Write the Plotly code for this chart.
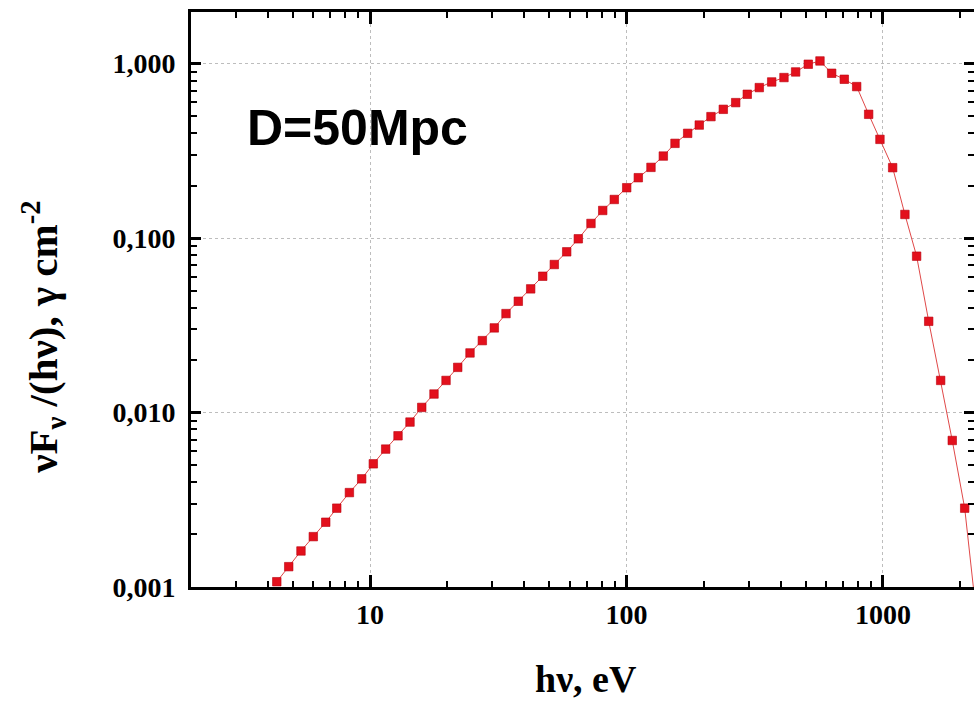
import plotly.graph_objects as go

# Photon energy (eV) of each spectral point
energy_ev = [
    4.33, 4.82, 5.38, 6.01, 6.72, 7.42, 8.31, 9.28, 10.30, 11.51,
    12.86, 14.32, 15.91, 17.76, 19.79, 21.98, 24.54, 27.41, 30.52, 33.90,
    37.86, 42.31, 47.14, 52.31, 58.47, 64.88, 72.70, 80.79, 89.63, 100.2,
    111.2, 124.6, 139.2, 154.6, 173.2, 192.2, 213.5, 238.5, 266.6, 295.8,
    329.5, 368.3, 411.2, 456.6, 511.5, 568.1, 631.0, 706.7, 789.9, 879.6,
    973.4, 1091, 1218, 1353, 1508, 1679, 1863, 2083, 2326,
]

# nu F_nu / (h nu), photons per cm^2
flux = [
    0.001072, 0.001308, 0.001609, 0.001944, 0.002351, 0.002830, 0.003477, 0.004169, 0.005083, 0.006174,
    0.007358, 0.008820, 0.01070, 0.01277, 0.01528, 0.01815, 0.02196, 0.02584, 0.03056, 0.03692,
    0.04343, 0.05117, 0.06044, 0.07055, 0.08345, 0.09908, 0.1213, 0.1440, 0.1665, 0.1944,
    0.2219, 0.2543, 0.2953, 0.3492, 0.3986, 0.4446, 0.4969, 0.5472, 0.5978, 0.6674,
    0.7291, 0.7852, 0.8322, 0.8961, 0.9922, 1.036, 0.8809, 0.8136, 0.7387, 0.5123,
    0.3681, 0.2533, 0.1366, 0.07874, 0.03334, 0.01528, 0.006916, 0.002830, 0.000646,
]

x_tick_vals = [10, 100, 1000]
x_tick_text = ["10", "100", "1000"]
y_tick_vals = [0.001, 0.01, 0.1, 1.0]
y_tick_text = ["0,001", "0,010", "0,100", "1,000"]

x_range_log = [0.302, 3.355]
y_range_log = [-3.0, 0.296]

serif = "Liberation Serif"
tick_font = dict(family=serif, size=28, color="black", weight="bold")

fig = go.Figure()
fig.add_trace(go.Scatter(
    x=energy_ev, y=flux,
    mode="lines+markers",
    line=dict(color="#e04848", width=1),
    marker=dict(symbol="square", size=8.5, color="#e3101c",
                line=dict(color="#b8000e", width=0.6)),
    cliponaxis=True,
    showlegend=False,
))
# Same series on the mirrored (top/right) axes, kept invisible so those
# axes get drawn with their inward ticks
fig.add_trace(go.Scatter(
    x=energy_ev, y=flux, xaxis="x2", yaxis="y2",
    mode="markers", marker=dict(opacity=0),
    hoverinfo="skip", showlegend=False,
))

minor_ticks = dict(ticks="inside", ticklen=6, tickwidth=2, tickcolor="black",
                   dtick="D1", showgrid=False)
grid = dict(showgrid=True, gridcolor="#bdbdbd", gridwidth=1, griddash="dot")

fig.update_layout(
    width=974, height=704,
    margin=dict(l=191, r=0, t=12, b=117),
    plot_bgcolor="white", paper_bgcolor="white",
    xaxis=dict(
        type="log", range=x_range_log,
        tickvals=x_tick_vals, ticktext=x_tick_text,
        ticks="inside", ticklen=12, tickwidth=3, tickcolor="black",
        minor=minor_ticks,
        showline=True, linewidth=3, linecolor="black", mirror=True,
        tickfont=tick_font, ticklabelstandoff=0,
        zeroline=False, **grid,
    ),
    yaxis=dict(
        type="log", range=y_range_log,
        tickvals=y_tick_vals, ticktext=y_tick_text,
        ticks="inside", ticklen=10, tickwidth=3, tickcolor="black",
        minor=minor_ticks,
        showline=True, linewidth=3, linecolor="black", mirror=False,
        tickfont=tick_font, ticklabelstandoff=7,
        zeroline=False, **grid,
    ),
    xaxis2=dict(
        type="log", range=x_range_log, overlaying="x", side="top",
        tickvals=x_tick_vals, showticklabels=False,
        ticks="inside", ticklen=12, tickwidth=3, tickcolor="black",
        minor=minor_ticks,
        showline=False, showgrid=False, zeroline=False,
    ),
    yaxis2=dict(
        type="log", range=y_range_log, overlaying="y", side="right",
        tickvals=y_tick_vals, showticklabels=False,
        ticks="inside", ticklen=10, tickwidth=3, tickcolor="black",
        minor=minor_ticks,
        showline=False, showgrid=False, zeroline=False,
    ),
    annotations=[
        dict(text="D=50Mpc", xref="paper", yref="paper",
             x=0.213, y=0.799, xanchor="center", yanchor="middle", showarrow=False,
             font=dict(family="Liberation Sans", size=50, color="black", weight="bold")),
        dict(text="hν, eV", xref="paper", yref="paper",
             x=0.505, y=-0.160, xanchor="center", yanchor="middle", showarrow=False,
             font=dict(family=serif, size=38, color="black", weight="bold")),
        dict(text="νF<sub>ν</sub> /(hν), γ cm<sup>-2</sup>", xref="paper", yref="paper",
             x=-0.1885, y=0.434, xanchor="center", yanchor="middle",
             textangle=-90, showarrow=False,
             font=dict(family=serif, size=41, color="black", weight="bold")),
    ],
)

fig.write_html("out.html")
